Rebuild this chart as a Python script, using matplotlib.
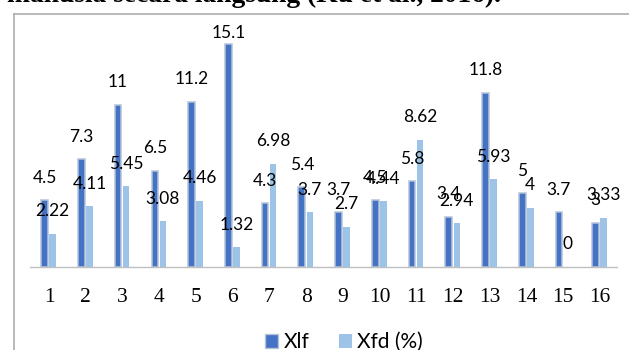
import numpy as np
import matplotlib
matplotlib.use('Agg')
import matplotlib.pyplot as plt
from matplotlib.patches import Patch
from matplotlib.lines import Line2D

# ── data ──
groups = [str(i) for i in range(1, 17)]
xlf = [4.5, 7.3, 11, 6.5, 11.2, 15.1, 4.3, 5.4, 3.7, 4.5, 5.8, 3.4, 11.8, 5, 3.7, 3]
xfd = [2.22, 4.11, 5.45, 3.08, 4.46, 1.32, 6.98, 3.7, 2.7, 4.44, 8.62, 2.94, 5.93, 4, 0, 3.33]
series_names = ['Xlf', 'Xfd (%)']
caption = 'manusia secara langsung (Ku et al., 2016).'

# ── style ──
W, H = 629, 350
DARK = '#4472C4'
LIGHT = '#9DC3E6'
EDGE = '#B4C2D8'
FRAME = '#A6A6A6'
LABEL_FONT = 'Lato'
TICK_FONT = 'Liberation Serif'

fig = plt.figure(figsize=(W / 100, H / 100), dpi=100)

# axes placed in pixel terms: baseline at y=266.7, top at the frame line
ax_left, ax_right = 30, 617
ax_top, ax_base = 13.3, 266.7
ax = fig.add_axes([ax_left / W, (H - ax_base) / H,
                   (ax_right - ax_left) / W, (ax_base - ax_top) / H])

YMAX = 17.2
ppu = (ax_base - ax_top) / YMAX  # pixels per data unit
x = np.arange(len(groups))

ax.bar(x - 0.12, xlf, width=0.18, color=DARK, edgecolor=EDGE, linewidth=1.1, zorder=2)
ax.bar(x + 0.10, xfd, width=0.18, color=LIGHT, linewidth=0, zorder=3)

ax.set_xlim(-0.517, 15.46)
ax.set_ylim(0, YMAX)

# data labels, ~22px above the bar top, kept inside the plot area
off = 22.5 / ppu
cap = YMAX - 20 / ppu
for xs, vals in ((x - 0.12, xlf), (x + 0.10, xfd)):
    for xi, v in zip(xs, vals):
        ax.text(xi, min(v + off, cap), f'{v:g}', ha='center', va='center',
                fontsize=12.5, family=LABEL_FONT, color='black', zorder=4)

for s in ('left', 'right', 'top'):
    ax.spines[s].set_visible(False)
ax.spines['bottom'].set_color('#BFBFBF')
ax.spines['bottom'].set_linewidth(1.0)
ax.set_yticks([])
ax.set_xticks(x)
ax.set_xticklabels(groups, family=TICK_FONT, fontsize=15.5)
ax.tick_params(axis='x', length=0, pad=15.5)

# legend
handles = [Patch(facecolor=DARK, edgecolor=EDGE, linewidth=1.0),
           Patch(facecolor=LIGHT, edgecolor='none')]
fig.legend(handles, series_names, loc='center', bbox_to_anchor=(344 / W, 1 - 342 / H),
           ncol=2, frameon=False, prop={'family': LABEL_FONT, 'size': 15},
           handlelength=0.65, handleheight=0.65, handletextpad=0.25,
           columnspacing=1.4, borderpad=0)

# chart frame (only left and top edges fall inside the crop)
fig.add_artist(Line2D([14 / W, 14 / W], [0, 1 - 14 / H], color=FRAME, lw=1.1))
fig.add_artist(Line2D([14 / W, 1], [1 - 14 / H, 1 - 14 / H], color=FRAME, lw=1.1))

# document text cut off at the top
fig.text(7 / W, 1 - 2 / H, caption, ha='left', va='baseline',
         family=TICK_FONT, fontweight='bold', fontsize=19.8)

fig.savefig('out.png', dpi=100)
